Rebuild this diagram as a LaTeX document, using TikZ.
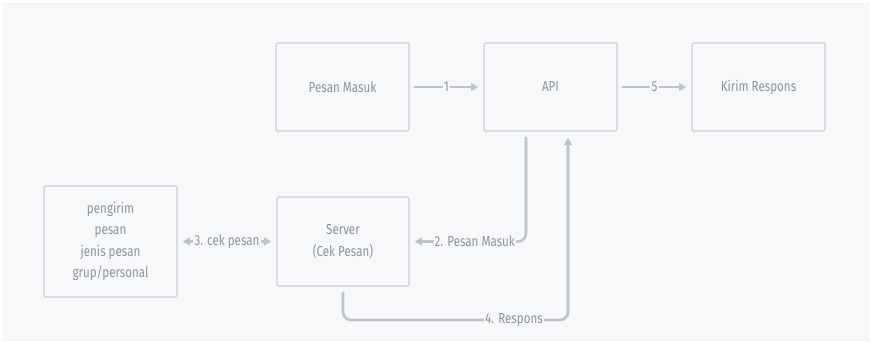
\documentclass[tikz,border=0pt]{standalone}
\usepackage{fontspec}
\setmainfont{Fira Sans}[FakeStretch=0.8]
\usetikzlibrary{arrows.meta}
\definecolor{ffffff}{rgb}{1,1,1}
\definecolor{ttffzz}{rgb}{0.969,0.973,0.98}
\definecolor{ccccdd}{rgb}{0.79,0.81,0.835}
\definecolor{bbccdd}{rgb}{0.74,0.765,0.79}
\definecolor{qqttzz}{rgb}{0.55,0.575,0.61}
\begin{document}
\begin{tikzpicture}[line cap=round,line join=round,>={Triangle[length=7.5pt,width=8pt]},x=1pt,y=-1pt,
  box/.style={draw=ccccdd,line width=1.3pt,rounded corners=1.5pt,inner sep=0pt,align=center,text=qqttzz,font=\fontsize{14.5}{21.5}\selectfont},
  conn/.style={draw=bbccdd,line width=2.6pt,shorten <=5pt,shorten >=5pt},
  lbl/.style={fill=ttffzz,inner sep=1.2pt,text=qqttzz,font=\fontsize{14.5}{16}\selectfont}]
\useasboundingbox (0,0) rectangle (871,343);
\fill[ffffff] (0,0) rectangle (871,343);
\fill[ttffzz,draw=ttffzz!98!black,line width=0.4pt] (3,3) rectangle (868,340);
% boxes
\node[box,minimum width=133pt,minimum height=88pt] (pesanmasuk) at (342.5,87) {Pesan Masuk};
\node[box,minimum width=133pt,minimum height=88pt] (api) at (550.5,87) {API};
\node[box,minimum width=133pt,minimum height=88pt] (kirim) at (758.5,87) {Kirim Respons};
\node[box,minimum width=133pt,minimum height=111pt] (pengirim) at (110.5,241.5) {pengirim\\pesan\\jenis pesan\\grup/personal};
\node[box,minimum width=132pt,minimum height=89pt] (server) at (343,241.5) {Server\\(Cek Pesan)};
% arrows
\draw[conn,->] (pesanmasuk) -- node[lbl]{1} (api);
\draw[conn,->] (api) -- node[lbl]{5} (kirim);
\draw[conn,<->] (pengirim) -- node[lbl]{3. cek pesan} (server);
\draw[conn,->,rounded corners=8pt,shorten <=6pt] ([xshift=-24.5pt]api.south) |- node[lbl,pos=0.72]{2. Pesan Masuk} (server.east);
\draw[conn,->,rounded corners=8pt,shorten <=6pt,shorten >=6pt] (server.south) -- (server.south |- 0,320) -| node[lbl,pos=0.38]{4. Respons} ([xshift=17.5pt]api.south);
\end{tikzpicture}
\end{document}
